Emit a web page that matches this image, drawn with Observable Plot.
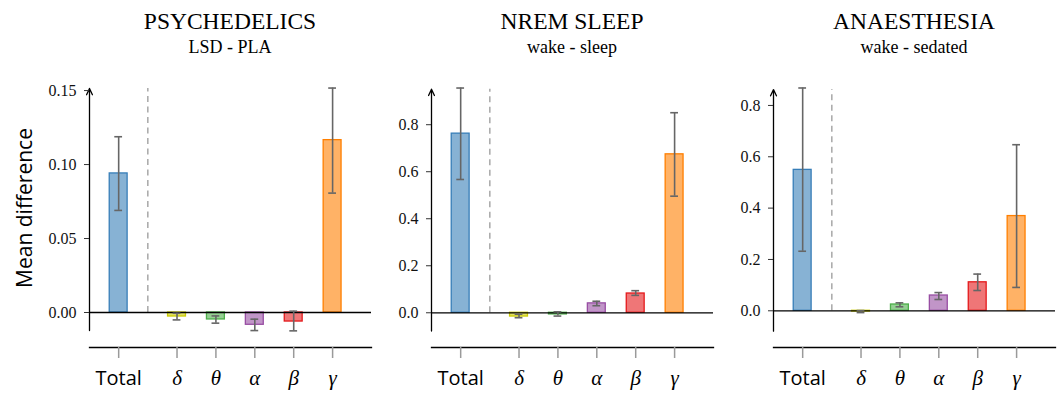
<!DOCTYPE html>
<html><head><meta charset="utf-8">
<script src="https://cdn.jsdelivr.net/npm/d3@7"></script>
<script src="https://cdn.jsdelivr.net/npm/@observablehq/plot@0.6"></script>
<style>
body{margin:0;background:#fff;}
#chart{position:relative;width:1058px;height:395px;overflow:hidden;background:#fff;}
.title{position:absolute;top:8px;text-align:center;font-family:"Liberation Serif",serif;font-size:23.5px;line-height:26px;color:#000;white-space:nowrap;}
.sub{position:absolute;top:37px;text-align:center;font-family:"Liberation Serif",serif;font-size:18px;line-height:20px;color:#000;white-space:nowrap;}
.panel{position:absolute;top:60px;}
#ylab{position:absolute;left:24px;top:208px;transform:translate(-50%,-50%) rotate(-90deg);font-family:"Open Sans",sans-serif;font-size:21px;white-space:nowrap;color:#000;}
</style>
</head><body>
<div id="chart"></div>
<script>
// ---- data ----
const categories = ["Total", "δ", "θ", "α", "β", "γ"];
const panelTitles = ["PSYCHEDELICS", "NREM SLEEP", "ANAESTHESIA"];
const panelSubtitles = ["LSD - PLA", "wake - sleep", "wake - sedated"];
const yLabel = "Mean difference";

const psyMean = [0.094, -0.0027, -0.0047, -0.0083, -0.0061, 0.1165];
const psyLow  = [0.069, -0.005, -0.0072, -0.0122, -0.0124, 0.0807];
const psyHigh = [0.1188, -0.0005, -0.0023, -0.0045, 0.0009, 0.1517];

const sleepMean = [0.762, -0.016, -0.007, 0.040, 0.082, 0.674];
const sleepLow  = [0.567, -0.021, -0.014, 0.030, 0.074, 0.496];
const sleepHigh = [0.956, -0.006, 0.004, 0.049, 0.094, 0.851];

const anaMean = [0.549, -0.003, 0.0245, 0.0596, 0.111, 0.369];
const anaLow  = [0.232, -0.007, 0.0156, 0.044, 0.079, 0.091];
const anaHigh = [0.868, 0.001, 0.031, 0.071, 0.143, 0.647];

const psyTicks = [0, 0.05, 0.10, 0.15];
const sleepTicks = [0, 0.2, 0.4, 0.6, 0.8];
const anaTicks = [0, 0.2, 0.4, 0.6, 0.8];
const tickFormats = [".2f", ".1f", ".1f"];

// axis spine extents and full scale domains per panel
const spineExtents = [[-0.0122, 0.1514], [-0.078, 0.951], [-0.0795, 0.862]];
const yDomains = [[-0.02365, 0.1514], [-0.1477, 0.954], [-0.143, 0.866]];

const barFills = ["#377eb8", "#cccc00", "#4daf4a", "#984ea3", "#e41a1c", "#ff7f00"];

// ---- layout ----
const means = [psyMean, sleepMean, anaMean];
const lows = [psyLow, sleepLow, anaLow];
const highs = [psyHigh, sleepHigh, anaHigh];
const ticks = [psyTicks, sleepTicks, anaTicks];
const W = 371, H = 335, ML = 89, MT = 28, MB = 48;
const X0 = -0.75;
const SERIF = '"Liberation Serif", "Times New Roman", serif';
const offsets = [0, 342, 684];
const chart = document.getElementById("chart");

function panel(i) {
  const data = categories.map((c, k) => ({
    cat: c, pos: k === 0 ? 0 : k + 0.5,
    mean: means[i][k], low: lows[i][k], high: highs[i][k], color: barFills[k]
  }));
  const [a0, a1] = spineExtents[i];
  const capW = 0.1, barW = 0.23;
  const fmt = d3.format(tickFormats[i]);
  return Plot.plot({
    width: W, height: H,
    marginLeft: ML, marginRight: 0, marginTop: MT, marginBottom: MB,
    style: {background: "transparent", overflow: "visible"},
    x: {type: "linear", domain: [X0, 6.5], axis: null},
    y: {domain: yDomains[i], axis: null},
    marks: [
      Plot.ruleX([0.75], {y1: () => 0, y2: () => a1, stroke: "#9a9a9a", strokeWidth: 1.3, strokeDasharray: "6,4.5"}),
      Plot.rectY(data, {x1: d => d.pos - barW, x2: d => d.pos + barW, y1: () => 0, y2: "mean",
        fill: "color", fillOpacity: 0.6, stroke: "color", strokeWidth: 1.3}),
      Plot.ruleY([0], {stroke: "#000", strokeWidth: 1.3}),
      Plot.ruleX(data, {x: "pos", y1: "low", y2: "high", stroke: "#666", strokeWidth: 1.6}),
      Plot.ruleY(data, {y: "low", x1: d => d.pos - capW, x2: d => d.pos + capW, stroke: "#666", strokeWidth: 1.6}),
      Plot.ruleY(data, {y: "high", x1: d => d.pos - capW, x2: d => d.pos + capW, stroke: "#666", strokeWidth: 1.6}),
      Plot.arrow([{}], {x1: () => X0, x2: () => X0, y1: () => a0, y2: () => a1,
        stroke: "#000", strokeWidth: 1.3, headLength: 8, headAngle: 50}),
      Plot.axisY({ticks: ticks[i], tickFormat: () => "", tickSize: 5, label: null, stroke: "#333"}),
      Plot.text(ticks[i], {x: () => X0, y: d => d, text: d => fmt(d), dx: -13, textAnchor: "end",
        fontFamily: SERIF, fontSize: 16, fill: "#111"}),
      Plot.frame({anchor: "bottom", stroke: "#000", strokeWidth: 1.3}),
      Plot.axisX({ticks: data.map(d => d.pos), tickSize: 11, tickFormat: () => "", label: null,
        stroke: "#9a9a9a", strokeWidth: 1.5}),
      Plot.text(data.slice(0, 1), {x: "pos", text: "cat", frameAnchor: "bottom", dy: 37,
        fontFamily: "Open Sans", fontSize: 20, fill: "#000"}),
      Plot.text(data.slice(1), {x: "pos", text: "cat", frameAnchor: "bottom", dy: 37,
        fontFamily: SERIF, fontStyle: "italic", fontSize: 21, fill: "#000"})
    ]
  });
}

for (let i = 0; i < 3; i++) {
  const t = document.createElement("div");
  t.className = "title";
  t.style.left = (offsets[i] + ML) + "px";
  t.style.width = (W - ML) + "px";
  t.textContent = panelTitles[i];
  chart.appendChild(t);
  const s = document.createElement("div");
  s.className = "sub";
  s.style.left = (offsets[i] + ML) + "px";
  s.style.width = (W - ML) + "px";
  s.textContent = panelSubtitles[i];
  chart.appendChild(s);
  const p = panel(i);
  p.classList.add("panel");
  p.style.position = "absolute";
  p.style.left = offsets[i] + "px";
  p.style.top = "60px";
  chart.appendChild(p);
}
const yl = document.createElement("div");
yl.id = "ylab";
yl.textContent = yLabel;
chart.appendChild(yl);
</script>
</body></html>
